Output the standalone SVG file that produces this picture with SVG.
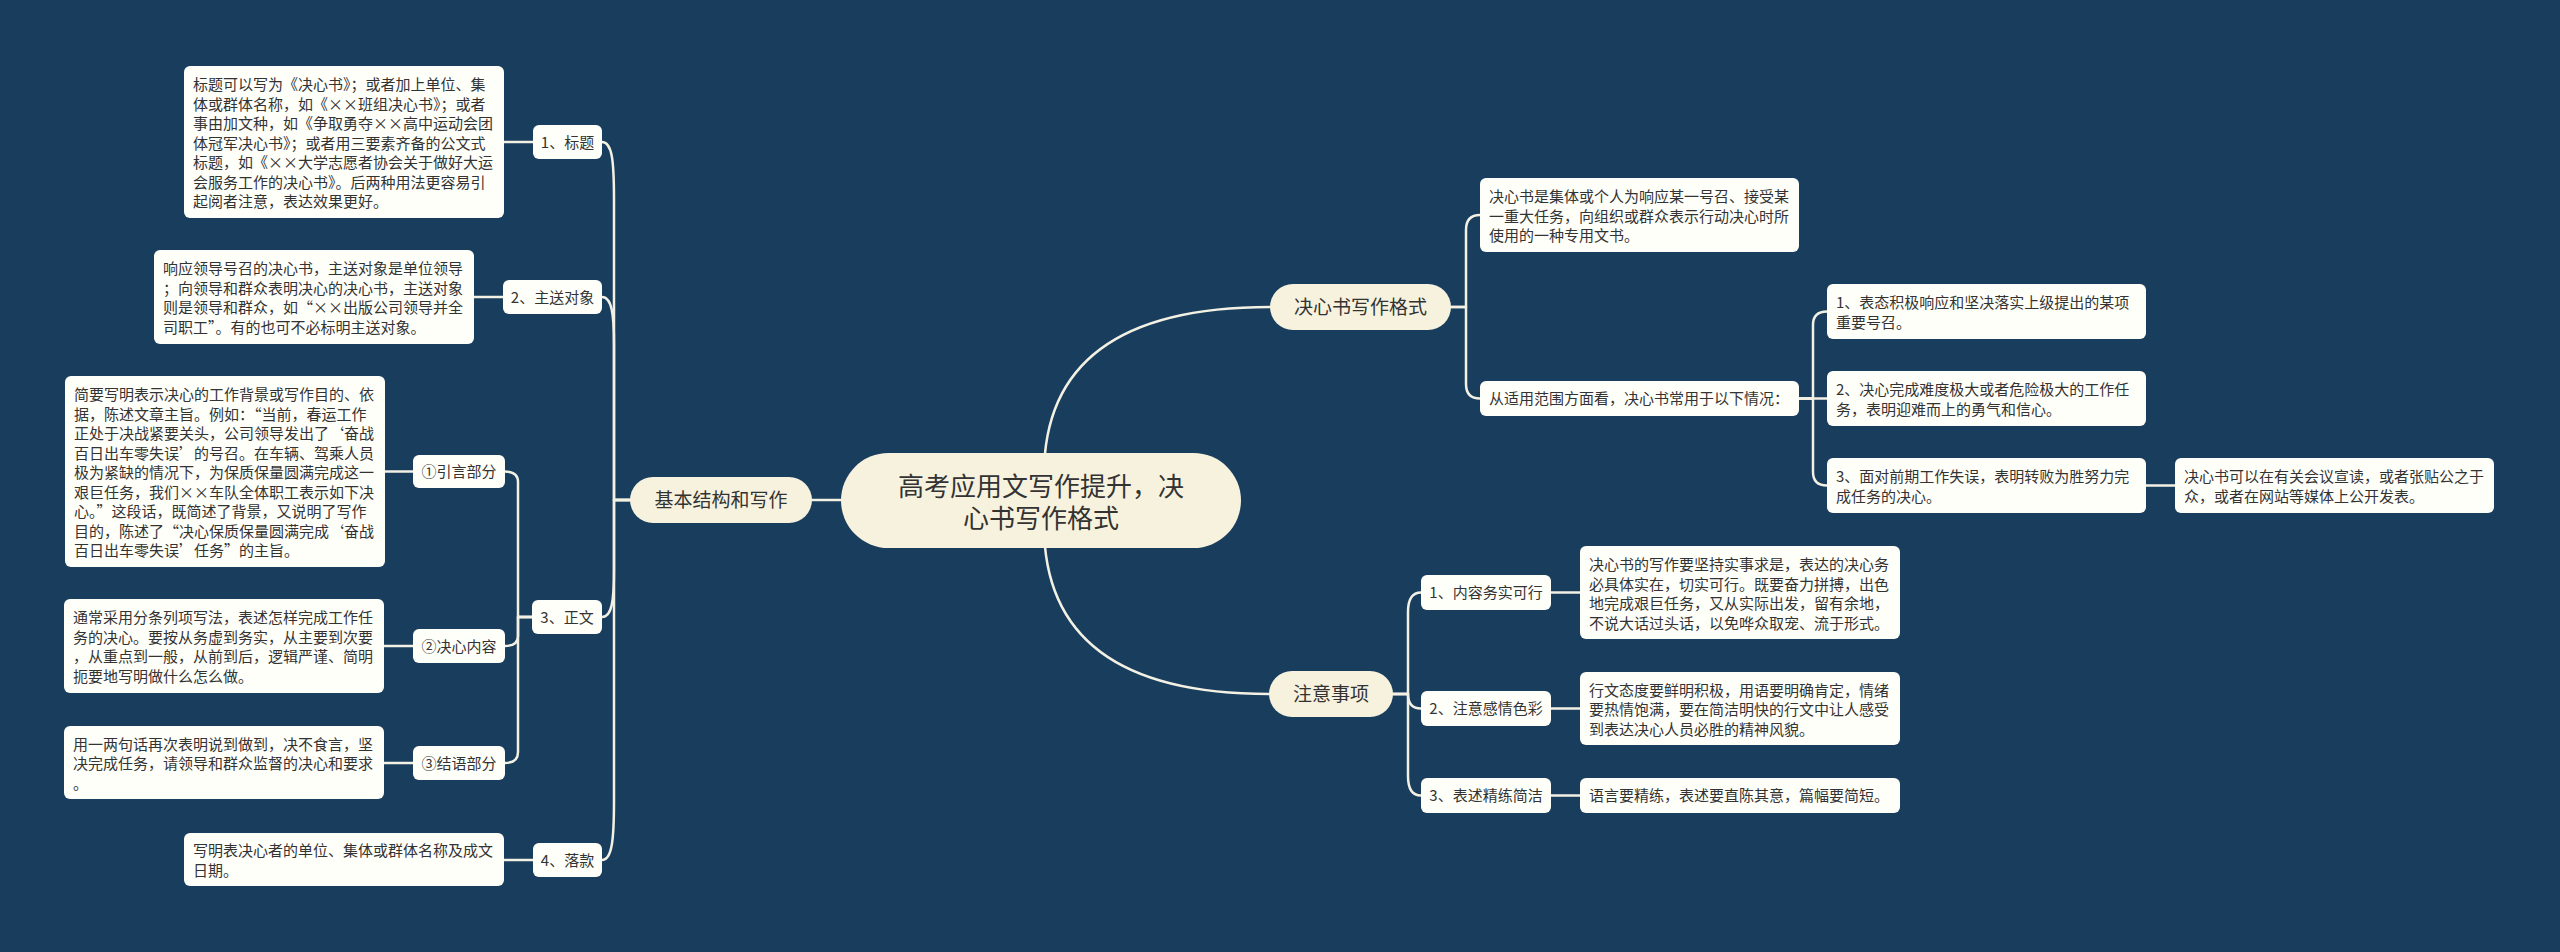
<svg xmlns="http://www.w3.org/2000/svg" width="2560" height="952" viewBox="0 0 2560 952">
<style>
.bg{fill:#183d5d}
.root{fill:#f7f2de}
.l1{fill:#f7f2de}
.box{fill:#fffffa}
.t{font-family:"Noto Sans CJK SC","Noto Sans",sans-serif;fill:#333333}
.s15{font-size:15px}
.s19{font-size:19px}
.s26{font-size:26px}
.mid{text-anchor:middle}
.c{fill:none;stroke:#f3f0e4;stroke-width:2.5;stroke-linecap:round;stroke-linejoin:round}
</style>
<rect class="bg" x="0" y="0" width="2560" height="952"/>
<g id="connectors">
<path class="c" d="M841 500 H812"/>
<path class="c" d="M1044 475 Q1044 307 1270 307"/>
<path class="c" d="M1044 525 Q1044 694 1269 694"/>
<path class="c" d="M630 500 H614 V200 C614 160 612 142 602 142"/>
<path class="c" d="M630 500 H614 V345 C614 315 612 297 602 297"/>
<path class="c" d="M630 500 H614 V570 C614 600 612 617 602 617"/>
<path class="c" d="M630 500 H614 V800 C614 840 612 860 602 860"/>
<path class="c" d="M532 617 H518 V482 Q518 471.5 505 471.5"/>
<path class="c" d="M532 617 H518 V636 Q518 646 505 646"/>
<path class="c" d="M532 617 H518 V752 Q518 763 505 763"/>
<path class="c" d="M504 142 H533"/>
<path class="c" d="M474 297 H503"/>
<path class="c" d="M385 471.5 H413"/>
<path class="c" d="M384 646 H413"/>
<path class="c" d="M384 763 H413"/>
<path class="c" d="M504 860 H533"/>
<path class="c" d="M1451 307 H1466 V230 Q1466 215 1480 215"/>
<path class="c" d="M1451 307 H1466 V384 Q1466 398.5 1480 398.5"/>
<path class="c" d="M1799 398.5 H1813 V325 Q1813 311.5 1827 311.5"/>
<path class="c" d="M1799 398.5 H1827"/>
<path class="c" d="M1799 398.5 H1813 V472 Q1813 485.5 1827 485.5"/>
<path class="c" d="M2146 485.5 H2175"/>
<path class="c" d="M1393 694 H1408 V612 Q1408 592.5 1421 592.5"/>
<path class="c" d="M1393 694 H1408 Q1408 708.5 1421 708.5"/>
<path class="c" d="M1393 694 H1408 V776 Q1408 795.5 1421 795.5"/>
<path class="c" d="M1551 592.5 H1580"/>
<path class="c" d="M1551 708.5 H1580"/>
<path class="c" d="M1551 795.5 H1580"/>
</g>
<g id="root">
<rect class="root" x="841" y="453" width="400" height="95" rx="47.5"/>
<text class="t s26 mid" x="1041" y="496">高考应用文写作提升，决</text>
<text class="t s26 mid" x="1041" y="528">心书写作格式</text>
</g>
<g id="n-jiben">
<rect class="l1" x="630" y="477" width="182" height="46" rx="23"/>
<text class="t s19 mid" x="721" y="507">基本结构和写作</text>
</g>
<g id="n-geshi">
<rect class="l1" x="1270" y="284" width="181" height="46" rx="23"/>
<text class="t s19 mid" x="1360.5" y="314">决心书写作格式</text>
</g>
<g id="n-zhuyi">
<rect class="l1" x="1269" y="671" width="124" height="46" rx="23"/>
<text class="t s19 mid" x="1331" y="701">注意事项</text>
</g>
<g id="n1">
<rect class="box" x="533" y="125" width="69" height="34" rx="6"/>
<text class="t s15 mid" x="567.5" y="147.5">1、标题</text>
</g>
<g id="n1-text">
<rect class="box" x="184" y="66" width="320" height="152" rx="6"/>
<text class="t s15" x="193" y="90"><tspan x="193">标题可以写为《决心书》；或者加上单位、集</tspan><tspan x="193" dy="19.5">体或群体名称，如《××班组决心书》；或者</tspan><tspan x="193" dy="19.5">事由加文种，如《争取勇夺××高中运动会团</tspan><tspan x="193" dy="19.5">体冠军决心书》；或者用三要素齐备的公文式</tspan><tspan x="193" dy="19.5">标题，如《××大学志愿者协会关于做好大运</tspan><tspan x="193" dy="19.5">会服务工作的决心书》。后两种用法更容易引</tspan><tspan x="193" dy="19.5">起阅者注意，表达效果更好。</tspan></text>
</g>
<g id="n2">
<rect class="box" x="503" y="280" width="99" height="34" rx="6"/>
<text class="t s15 mid" x="552.5" y="302.5">2、主送对象</text>
</g>
<g id="n2-text">
<rect class="box" x="154" y="250" width="320" height="94" rx="6"/>
<text class="t s15" x="163" y="274"><tspan x="163">响应领导号召的决心书，主送对象是单位领导</tspan><tspan x="163" dy="19.5">；向领导和群众表明决心的决心书，主送对象</tspan><tspan x="163" dy="19.5">则是领导和群众，如“××出版公司领导并全</tspan><tspan x="163" dy="19.5">司职工”。有的也可不必标明主送对象。</tspan></text>
</g>
<g id="n3">
<rect class="box" x="532" y="600" width="70" height="34" rx="6"/>
<text class="t s15 mid" x="567" y="622.5">3、正文</text>
</g>
<g id="n31">
<rect class="box" x="413" y="455" width="92" height="33" rx="6"/>
<text class="t s15 mid" x="459" y="477">①引言部分</text>
</g>
<g id="n31-text">
<rect class="box" x="65" y="376" width="320" height="191" rx="6"/>
<text class="t s15" x="74" y="400"><tspan x="74">简要写明表示决心的工作背景或写作目的、依</tspan><tspan x="74" dy="19.5">据，陈述文章主旨。例如：“当前，春运工作</tspan><tspan x="74" dy="19.5">正处于决战紧要关头，公司领导发出了‘奋战</tspan><tspan x="74" dy="19.5">百日出车零失误’的号召。在车辆、驾乘人员</tspan><tspan x="74" dy="19.5">极为紧缺的情况下，为保质保量圆满完成这一</tspan><tspan x="74" dy="19.5">艰巨任务，我们××车队全体职工表示如下决</tspan><tspan x="74" dy="19.5">心。”这段话，既简述了背景，又说明了写作</tspan><tspan x="74" dy="19.5">目的，陈述了“决心保质保量圆满完成‘奋战</tspan><tspan x="74" dy="19.5">百日出车零失误’任务”的主旨。</tspan></text>
</g>
<g id="n32">
<rect class="box" x="413" y="629" width="92" height="34" rx="6"/>
<text class="t s15 mid" x="459" y="651.5">②决心内容</text>
</g>
<g id="n32-text">
<rect class="box" x="64" y="599" width="320" height="94" rx="6"/>
<text class="t s15" x="73" y="623"><tspan x="73">通常采用分条列项写法，表述怎样完成工作任</tspan><tspan x="73" dy="19.5">务的决心。要按从务虚到务实，从主要到次要</tspan><tspan x="73" dy="19.5">，从重点到一般，从前到后，逻辑严谨、简明</tspan><tspan x="73" dy="19.5">扼要地写明做什么怎么做。</tspan></text>
</g>
<g id="n33">
<rect class="box" x="413" y="746" width="92" height="34" rx="6"/>
<text class="t s15 mid" x="459" y="768.5">③结语部分</text>
</g>
<g id="n33-text">
<rect class="box" x="64" y="726" width="320" height="73" rx="6"/>
<text class="t s15" x="73" y="749.5"><tspan x="73">用一两句话再次表明说到做到，决不食言，坚</tspan><tspan x="73" dy="19.5">决完成任务，请领导和群众监督的决心和要求</tspan><tspan x="73" dy="19.5">。</tspan></text>
</g>
<g id="n4">
<rect class="box" x="533" y="843" width="69" height="34" rx="6"/>
<text class="t s15 mid" x="567.5" y="865.5">4、落款</text>
</g>
<g id="n4-text">
<rect class="box" x="184" y="833" width="320" height="53" rx="6"/>
<text class="t s15" x="193" y="856"><tspan x="193">写明表决心者的单位、集体或群体名称及成文</tspan><tspan x="193" dy="19.5">日期。</tspan></text>
</g>
<g id="r1">
<rect class="box" x="1480" y="178" width="319" height="74" rx="6"/>
<text class="t s15" x="1489" y="202"><tspan x="1489">决心书是集体或个人为响应某一号召、接受某</tspan><tspan x="1489" dy="19.5">一重大任务，向组织或群众表示行动决心时所</tspan><tspan x="1489" dy="19.5">使用的一种专用文书。</tspan></text>
</g>
<g id="r2">
<rect class="box" x="1480" y="381" width="319" height="35" rx="6"/>
<text class="t s15" x="1489" y="404">从适用范围方面看，决心书常用于以下情况：</text>
</g>
<g id="r21">
<rect class="box" x="1827" y="284" width="319" height="55" rx="6"/>
<text class="t s15" x="1836" y="308"><tspan x="1836">1、表态积极响应和坚决落实上级提出的某项</tspan><tspan x="1836" dy="19.5">重要号召。</tspan></text>
</g>
<g id="r22">
<rect class="box" x="1827" y="371" width="319" height="55" rx="6"/>
<text class="t s15" x="1836" y="395"><tspan x="1836">2、决心完成难度极大或者危险极大的工作任</tspan><tspan x="1836" dy="19.5">务，表明迎难而上的勇气和信心。</tspan></text>
</g>
<g id="r23">
<rect class="box" x="1827" y="458" width="319" height="55" rx="6"/>
<text class="t s15" x="1836" y="482"><tspan x="1836">3、面对前期工作失误，表明转败为胜努力完</tspan><tspan x="1836" dy="19.5">成任务的决心。</tspan></text>
</g>
<g id="r231">
<rect class="box" x="2175" y="458" width="319" height="55" rx="6"/>
<text class="t s15" x="2184" y="482"><tspan x="2184">决心书可以在有关会议宣读，或者张贴公之于</tspan><tspan x="2184" dy="19.5">众，或者在网站等媒体上公开发表。</tspan></text>
</g>
<g id="z1">
<rect class="box" x="1421" y="575" width="130" height="35" rx="6"/>
<text class="t s15 mid" x="1486" y="598">1、内容务实可行</text>
</g>
<g id="z1-text">
<rect class="box" x="1580" y="546" width="320" height="93" rx="6"/>
<text class="t s15" x="1589" y="570"><tspan x="1589">决心书的写作要坚持实事求是，表达的决心务</tspan><tspan x="1589" dy="19.5">必具体实在，切实可行。既要奋力拼搏，出色</tspan><tspan x="1589" dy="19.5">地完成艰巨任务，又从实际出发，留有余地，</tspan><tspan x="1589" dy="19.5">不说大话过头话，以免哗众取宠、流于形式。</tspan></text>
</g>
<g id="z2">
<rect class="box" x="1421" y="691" width="130" height="35" rx="6"/>
<text class="t s15 mid" x="1486" y="714">2、注意感情色彩</text>
</g>
<g id="z2-text">
<rect class="box" x="1580" y="672" width="320" height="73" rx="6"/>
<text class="t s15" x="1589" y="695.5"><tspan x="1589">行文态度要鲜明积极，用语要明确肯定，情绪</tspan><tspan x="1589" dy="19.5">要热情饱满，要在简洁明快的行文中让人感受</tspan><tspan x="1589" dy="19.5">到表达决心人员必胜的精神风貌。</tspan></text>
</g>
<g id="z3">
<rect class="box" x="1421" y="778" width="130" height="35" rx="6"/>
<text class="t s15 mid" x="1486" y="801">3、表述精练简洁</text>
</g>
<g id="z3-text">
<rect class="box" x="1580" y="778" width="320" height="35" rx="6"/>
<text class="t s15" x="1589" y="801">语言要精练，表述要直陈其意，篇幅要简短。</text>
</g>
</svg>
